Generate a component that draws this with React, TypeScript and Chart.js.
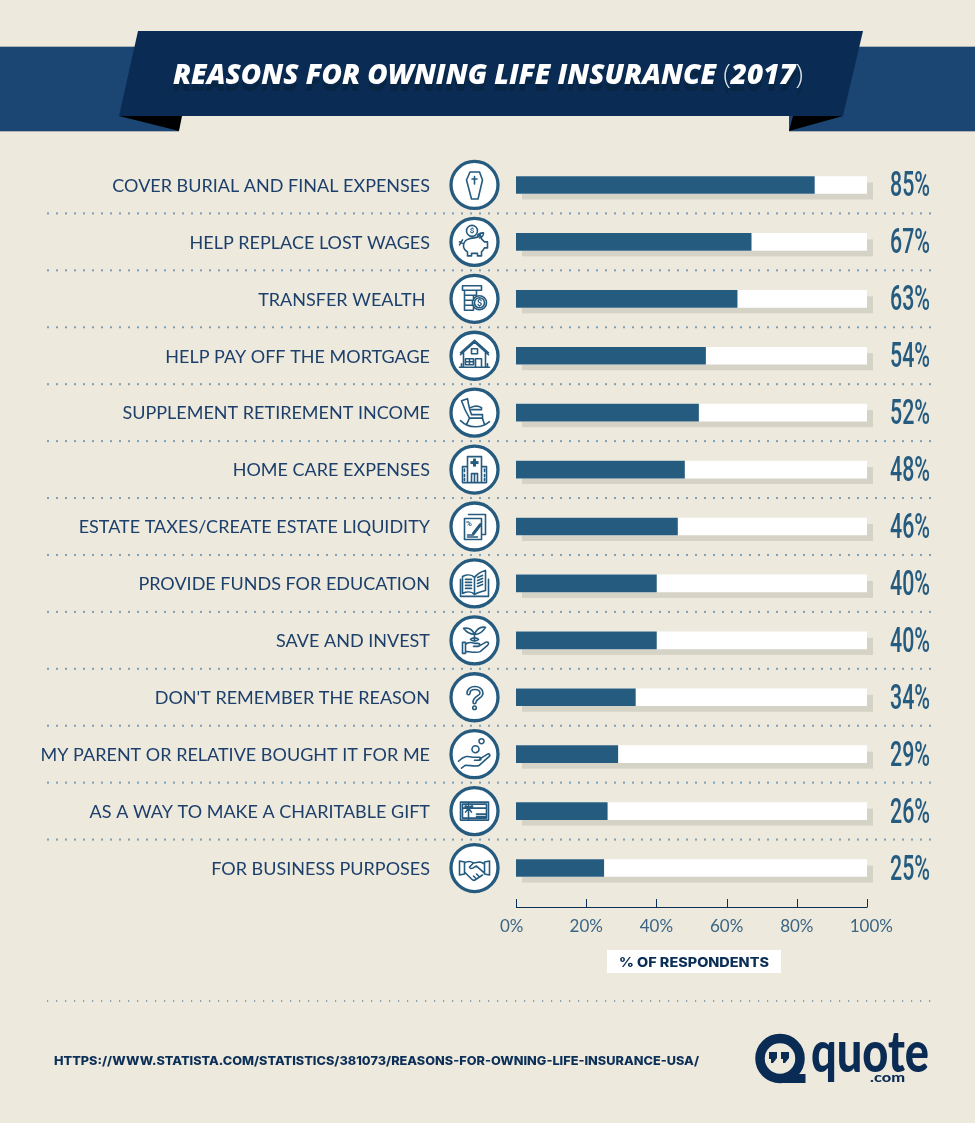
import React, { useEffect, useRef } from "react";
import { Chart, registerables } from "chart.js";

Chart.register(...registerables);

const categories = [
  "COVER BURIAL AND FINAL EXPENSES",
  "HELP REPLACE LOST WAGES",
  "TRANSFER WEALTH ",
  "HELP PAY OFF THE MORTGAGE",
  "SUPPLEMENT RETIREMENT INCOME",
  "HOME CARE EXPENSES",
  "ESTATE TAXES/CREATE ESTATE LIQUIDITY",
  "PROVIDE FUNDS FOR EDUCATION",
  "SAVE AND INVEST",
  "DON'T REMEMBER THE REASON",
  "MY PARENT OR RELATIVE BOUGHT IT FOR ME",
  "AS A WAY TO MAKE A CHARITABLE GIFT",
  "FOR BUSINESS PURPOSES",
];
const respondents = [85, 67, 63, 54, 52, 48, 46, 40, 40, 34, 29, 26, 25];
const fullTrack = categories.map(() => 100);
const axisTicks = [0, 20, 40, 60, 80, 100];

const titleText = "REASONS FOR OWNING LIFE INSURANCE ";
const titleYear = "2017";
const axisTitle = "% OF RESPONDENTS";
const sourceText = "HTTPS://WWW.STATISTA.COM/STATISTICS/381073/REASONS-FOR-OWNING-LIFE-INSURANCE-USA/";

const C = {
  bg: "#ede9dd", band: "#1b4674", banner: "#0a2c54", bar: "#265b80", shadow: "#d5d2c6",
  dots: "#7f9fb5", navy: "#0c2f58", label: "#1c3f6b", tick: "#3a6585",
};

type Ctx = CanvasRenderingContext2D;

function fit(ctx: Ctx, text: string, x: number, y: number, w: number, font: string, color: string) {
  ctx.save();
  ctx.font = font;
  ctx.fillStyle = color;
  ctx.textAlign = "left";
  ctx.textBaseline = "alphabetic";
  const m = ctx.measureText(text).width;
  ctx.translate(x, y);
  ctx.scale(w / m, 1);
  ctx.fillText(text, 0, 0);
  ctx.restore();
}

function poly(ctx: Ctx, pts: number[][], color: string) {
  ctx.fillStyle = color;
  ctx.beginPath();
  pts.forEach((p, i) => (i ? ctx.lineTo(p[0], p[1]) : ctx.moveTo(p[0], p[1])));
  ctx.closePath();
  ctx.fill();
}

function dotted(ctx: Ctx, y: number, color: string, size: number) {
  ctx.fillStyle = color;
  for (let x = 47; x < 931; x += 9) ctx.fillRect(x, y - size / 2, size, size);
}

function drawTitle(ctx: Ctx, dy: number, color: string, thin: string) {
  const boldF = "italic 800 28px 'Open Sans'";
  const lightF = "300 28px 'Open Sans'";
  ctx.save();
  ctx.font = boldF;
  const a = ctx.measureText(titleText).width;
  const b = ctx.measureText(titleYear).width;
  ctx.font = lightF;
  const c = ctx.measureText("(").width;
  const d = ctx.measureText(")").width;
  const total = a + b + c + d;
  ctx.translate(173, 83.5 + dy);
  ctx.scale(630 / total, 1);
  ctx.textAlign = "left";
  ctx.font = boldF;
  ctx.fillStyle = color;
  ctx.fillText(titleText, 0, 0);
  ctx.fillText(titleYear, a + c, 0);
  ctx.font = lightF;
  ctx.fillStyle = thin;
  ctx.fillText("(", a, 0);
  ctx.fillText(")", a + c + b, 0);
  ctx.restore();
}

// Icon outlines, in local coordinates about the centre of each circle
const iconPaths: string[] = [
  "M-4.5-13H5L8-5 3.5 14H-3L-8-5Z M0-8.5V-1 M-2.5-6H2.5",
  "M-11 4C-11-2-5-4 0-4C2-4 4-5 6-7L7-3C8-2 9-1 10 0H13V6H10C9 8 8 9 7 10V14H3V11.5H-3V14H-7V10C-10 8-11 6-11 4Z M-11 2L-15 0 M-15 3L-12 -2 M3-5C3-8 6-9 9-9C9-6 7-4 5-4 M3-11A5.5 5.5 0 1 1-8-11A5.5 5.5 0 1 1 3-11Z",
  "M-12-13H7V-8.5H-12Z M-10-8.5H2V-3.5H-10Z M-10-3.5H-1V1.5H-10Z M-10 1.5H-2V6.5H-10Z M-10 6.5H-1V11.5H-10Z M12 4A7 7 0 1 1-2 4A7 7 0 1 1 12 4Z M10 4A5 5 0 1 1 0 4A5 5 0 1 1 10 4Z",
  "M-14-3L0-15.5 14-3 M-14-1L0-13.5 14-1 M-11-5V11.5H11V-5 M-9 3H-1V9H-9Z M-5 3V9 M-9 6H-1 M1 3H7V11.5H1Z M-3-7H3V-2H-3Z M-15 11.5H15 M-13 8V11 M13 8V11",
  "M-13-12L-7-14C-6-8-5-3-3 2H8V5.5H-5C-9-1-11-6-13-12Z M-4-5C0-7 4-7 7-5V-3H-3 M-5 5.5L-8 12 M8 5.5L10 12 M-14 8C-6 16 7 16 15 9",
  "M-7-13H7V13H-7Z M-12-3H-7V13H-12Z M7-3H12V13H7Z M-3 4H3V13H-3Z M0 4V13 M-10-.5V2 M-10 5V7 M-10 9V11 M10-.5V2 M10 5V7 M10 9V11",
  "M-6-12H11V8H7 M-10-8H7V13H-10Z M-7 8.5H-1 M-7 10.5H3",
  "M-12-7C-8-9-3-9 0-6V11C-3 8-8 8-12 10Z M0-6C3-10 7-12 11-13V7C7 8 3 9 0 11Z M-14-4V13H14V-4 M-9-4H-3 M-9-1H-3 M-9 2H-3 M-9 5H-3 M3-6L8-8 M3-3L8-5 M3 0L8-2 M3 3L8 1",
  "M-12 2H-9V13H-12Z M-9 4C-6 1-3 2 0 3H3C6 3 6 6 3 6H-1 M4 6L11 2C14 1 15 3 13 5L6 11C3 13-1 12-9 11 M0 1V-6 M0-6C-4-6-8-8-11-12C-6-13-2-11 0-6Z M0-6C4-6 8-8 11-13C6-14 2-11 0-6Z M-4-1C-2-3 2-3 4-1C2 1-2 1-4-1Z",
  "M-6-4C-6-11 7-11 7-4C7 0 0 0 0 5",
  "M-16 7C-10 1-6 2-2 3H5C7 3 7 6 5 6H0 M5 5L13 0C15-1 16 1 15 2L5 11C1 13-4 11-9 11L-13 14 M9.5-13A2.5 2.5 0 1 1 4.5-13A2.5 2.5 0 1 1 9.5-13Z M4.5-5A3.5 3.5 0 1 1-2.5-5A3.5 3.5 0 1 1 4.5-5Z",
  "M-14-9H14V9H-14Z M-12-7H12V7H-12Z M-6-9V9 M-12-3H12 M-6-3C-10-8-11-3-6-3C-1-8 0-3-6-3L-9 1 M-6-3L-3 1 M2 3H11 M2 5.5H11",
  "M-15-7L-10-6V6L-15 7Z M15-7L10-6V6L15 7Z M-10-5C-7-7-4-7-1-5L5-6C7-6 8-5 10-4 M-1-5L-5-1C-4 1-2 1 0-1L2-2L10 5 M-10 4L-3 11C-1 13 1 12 2 11L8 7 M-1 8L2 11 M2 6L5 9",
];

function drawIcon(ctx: Ctx, i: number, cx: number, cy: number) {
  ctx.save();
  ctx.translate(cx, cy);
  ctx.beginPath();
  ctx.arc(0, 0, 23.5, 0, Math.PI * 2);
  ctx.fillStyle = "#ffffff";
  ctx.fill();
  ctx.lineWidth = 3.3;
  ctx.strokeStyle = C.bar;
  ctx.stroke();
  ctx.lineJoin = "round";
  ctx.lineCap = "round";
  const path = new Path2D(iconPaths[i]);
  if (i === 9) {
    ctx.lineWidth = 4.6;
    ctx.stroke(path);
    ctx.lineWidth = 1.4;
    ctx.strokeStyle = "#ffffff";
    ctx.stroke(path);
    ctx.strokeStyle = C.bar;
    ctx.fillStyle = C.bar;
    ctx.beginPath();
    ctx.arc(0, 10.5, 2.6, 0, Math.PI * 2);
    ctx.fill();
    ctx.fillStyle = "#ffffff";
    ctx.beginPath();
    ctx.arc(0, 10.5, 1, 0, Math.PI * 2);
    ctx.fill();
    ctx.restore();
    return;
  }
  ctx.lineWidth = 1.6;
  ctx.stroke(path);
  ctx.fillStyle = C.bar;
  ctx.textAlign = "center";
  ctx.textBaseline = "middle";
  if (i === 1) { ctx.font = "700 8px Roboto"; ctx.fillText("$", -2.5, -10.5); }
  if (i === 2) { ctx.font = "700 9px Roboto"; ctx.fillText("$", 5, 4.5); }
  if (i === 5) {
    ctx.fillRect(-1.5, -11, 3, 8);
    ctx.fillRect(-4, -8.5, 8, 3);
  }
  if (i === 6) {
    ctx.font = "700 8px Roboto";
    ctx.fillText("%", -5.5, -3);
    ctx.lineWidth = 3;
    ctx.beginPath();
    ctx.moveTo(-1, 7);
    ctx.lineTo(6, -2);
    ctx.stroke();
  }
  ctx.restore();
}

function drawLogo(ctx: Ctx) {
  ctx.save();
  ctx.strokeStyle = C.banner;
  ctx.fillStyle = C.banner;
  ctx.lineWidth = 9.5;
  ctx.beginPath();
  ctx.arc(780, 1058.5, 20, 0, Math.PI * 2);
  ctx.stroke();
  ctx.fillRect(782, 1074, 23.5, 9);
  poly(ctx, [[769, 1052], [777, 1052], [777, 1058], [773, 1063], [771, 1063], [771, 1059], [769, 1059]], C.banner);
  poly(ctx, [[781, 1052], [789, 1052], [789, 1058], [785, 1063], [783, 1063], [783, 1059], [781, 1059]], C.banner);
  ctx.restore();
  fit(ctx, "quote", 811, 1072, 118, "900 57px Lato", C.banner);
  fit(ctx, ".com", 870, 1082, 35, "900 13px Lato", C.banner);
}

const paintPlugin = {
  id: "paint",
  beforeDraw(chart: any) {
    const ctx: Ctx = chart.ctx;
    ctx.save();
    ctx.fillStyle = C.bg;
    ctx.fillRect(0, 0, 975, 1123);
    // ribbon
    ctx.fillStyle = "#aeb3b4";
    ctx.fillRect(0, 46, 179, 86);
    ctx.fillRect(789, 46, 186, 86);
    ctx.fillStyle = C.band;
    ctx.fillRect(0, 47, 179, 84);
    ctx.fillRect(789, 47, 186, 84);
    poly(ctx, [[119, 116], [182, 116], [179, 131]], "#000000");
    poly(ctx, [[843, 116], [793, 116], [789, 131]], "#000000");
    poly(ctx, [[138, 31], [863, 31], [843, 116], [119, 116]], C.banner);
    drawTitle(ctx, 7, "#082544", "#082544");
    drawTitle(ctx, 0, "#ffffff", "#dfe5ea");
    // row separators
    const y = chart.scales.y;
    for (let i = 0; i < categories.length - 1; i++) {
      dotted(ctx, (y.getPixelForTick(i) + y.getPixelForTick(i + 1)) / 2, C.dots, 2);
    }
    dotted(ctx, 1001, "#4d7390", 1.2);
    ctx.restore();
  },
  beforeDatasetsDraw(chart: any) {
    const ctx: Ctx = chart.ctx;
    const track = chart.getDatasetMeta(1).data;
    ctx.save();
    ctx.fillStyle = C.shadow;
    track.forEach((b: any) => {
      ctx.fillRect(b.base + 6, b.y - b.height / 2 + 6, b.x - b.base, b.height);
    });
    ctx.restore();
  },
  afterDraw(chart: any) {
    const ctx: Ctx = chart.ctx;
    const x = chart.scales.x;
    const y = chart.scales.y;
    ctx.save();
    categories.forEach((_, i) => {
      const cy = y.getPixelForTick(i);
      drawIcon(ctx, i, 474.5, cy);
      fit(ctx, `${respondents[i]}%`, 890, cy + 11.5, 40, "500 35px Roboto", C.bar);
    });
    // axis rule with upward ticks
    ctx.strokeStyle = C.navy;
    ctx.lineWidth = 1;
    const axisY = 907.5;
    ctx.beginPath();
    ctx.moveTo(x.getPixelForValue(0), axisY);
    ctx.lineTo(x.getPixelForValue(100), axisY);
    axisTicks.forEach((t) => {
      const px = Math.round(x.getPixelForValue(t)) + 0.5;
      ctx.moveTo(px, axisY);
      ctx.lineTo(px, axisY - 8.5);
    });
    ctx.stroke();
    // axis caption
    ctx.fillStyle = "#ffffff";
    ctx.fillRect(607, 950, 174, 23);
    fit(ctx, axisTitle, 619, 966.5, 150, "800 13px Inter", C.navy);
    // source and logo
    fit(ctx, sourceText, 54, 1064.5, 645, "800 12px Inter", C.navy);
    drawLogo(ctx);
    ctx.restore();
  },
};

export default function App() {
  const ref = useRef<HTMLCanvasElement>(null);
  useEffect(() => {
    const chart = new Chart(ref.current as HTMLCanvasElement, {
      type: "bar",
      data: {
        labels: categories,
        datasets: [
          { label: "% of respondents", data: respondents, backgroundColor: C.bar, barThickness: 17, grouped: false, order: 1 },
          { label: "Track", data: fullTrack, backgroundColor: "#ffffff", barThickness: 17, grouped: false, order: 2 },
        ],
      },
      options: {
        indexAxis: "y",
        responsive: false,
        animation: false,
        devicePixelRatio: 1,
        layout: { padding: { left: 0, right: 108, top: 156.5, bottom: 186.5 } },
        plugins: { legend: { display: false }, title: { display: false }, tooltip: { enabled: false } },
        scales: {
          x: {
            min: 0,
            max: 100,
            afterFit: (s: any) => { s.height = 40; },
            afterBuildTicks: (s: any) => { s.ticks = axisTicks.map((value) => ({ value })); },
            grid: { display: false, drawTicks: false },
            border: { display: false },
            ticks: {
              padding: 20,
              maxRotation: 0,
              autoSkip: false,
              color: C.tick,
              font: { family: "Lato", size: 17 },
              callback: (v: any) => (v === 0 ? "0%  " : v === 100 ? "  100%" : `${v}%`),
            },
          },
          y: {
            afterFit: (s: any) => { s.width = 516; },
            grid: { display: false, drawTicks: false },
            border: { display: false },
            ticks: {
              padding: 86,
              autoSkip: false,
              color: C.label,
              labelOffset: 1,
              font: { family: "Lato", size: 18 },
            },
          },
        },
      },
      plugins: [paintPlugin],
    } as any);
    return () => chart.destroy();
  }, []);
  return (
    <canvas
      ref={ref}
      width={975}
      height={1123}
      style={{ position: "absolute", left: 0, top: 0, width: 975, height: 1123 }}
    />
  );
}
